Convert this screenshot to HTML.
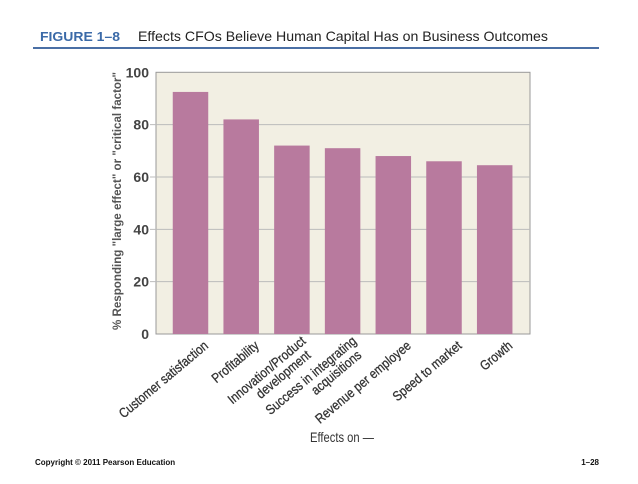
<!DOCTYPE html>
<html><head><meta charset="utf-8"><style>
body{margin:0;background:#fff;width:638px;height:479px;overflow:hidden;font-family:"Liberation Sans",sans-serif}
</style></head><body>
<svg width="638" height="479" xmlns="http://www.w3.org/2000/svg">
<text x="40" y="41" font-size="13" font-weight="bold" fill="#3b6aa8" textLength="80" lengthAdjust="spacingAndGlyphs">FIGURE 1–8</text>
<text x="138" y="41" font-size="14" fill="#222" textLength="410" lengthAdjust="spacingAndGlyphs">Effects CFOs Believe Human Capital Has on Business Outcomes</text>
<line x1="33" y1="48" x2="599" y2="48" stroke="#4a6fa5" stroke-width="2"/>
<rect x="156" y="72.3" width="374" height="261.7" fill="#f2efe3" stroke="#999" stroke-width="1"/>
<g id="grid"></g><g id="bars"></g><g id="yticks"></g><g id="xlabels"></g>
<text transform="translate(121,201) rotate(-90)" text-anchor="middle" font-size="12" font-weight="bold" fill="#555" textLength="258" lengthAdjust="spacingAndGlyphs">% Responding "large effect" or "critical factor"</text>
<text x="342" y="442" text-anchor="middle" font-size="14" fill="#333" textLength="64" lengthAdjust="spacingAndGlyphs">Effects on —</text>
<text x="35" y="465" font-size="8" font-weight="bold" fill="#111">Copyright © 2011 Pearson Education</text>
<text x="599" y="465" text-anchor="end" font-size="8" font-weight="bold" fill="#111">1–28</text>
</svg>
<script>
const categories=[["Customer satisfaction"],["Profitability"],["Innovation/Product","development"],["Success in integrating","acquisitions"],["Revenue per employee"],["Speed to market"],["Growth"]];
const values=[92.5,82,72,71,68,66,64.5];
const yTicks=[0,20,40,60,80,100];
const NS="http://www.w3.org/2000/svg";
const y0=334,y1=72.3;
function y(v){return y0-(y0-y1)*v/100;}
function xc(i){return 190.5+50.7*i;}
const bw=35.5;
function mk(t,a,p){const e=document.createElementNS(NS,t);for(const k in a)e.setAttribute(k,a[k]);document.getElementById(p).appendChild(e);return e;}
yTicks.forEach(v=>{
 if(v>0&&v<100){const l=mk('line',{x1:150,x2:530,y1:y(v),y2:y(v),stroke:'#bbb','stroke-width':1},'grid');
 
 }
 const t=mk('text',{x:149,y:y(v)+5,'text-anchor':'end','font-size':14,'font-weight':'bold',fill:'#444'},'yticks');
 t.textContent=v;
 
 
});
values.forEach((v,i)=>{
 const r=mk('rect',{x:xc(i)-bw/2,y:y(v),width:bw,height:y0-y(v),fill:'#b87a9e'},'bars');
 
 
 const g=mk('text',{transform:`translate(${xc(i)+16},344) rotate(-40) scale(0.86,1)`,'text-anchor':'end','font-size':13.5,fill:'#333',stroke:'#333','stroke-width':0.3},'xlabels');
 
 
 const lines=categories[i];
 lines.forEach((s,j)=>{const ts=document.createElementNS(NS,'tspan');ts.setAttribute('x',lines.length>1&&j==1?-6:0);ts.setAttribute('y',lines.length>1?(j==0?-2:12):4);ts.textContent=s;g.appendChild(ts);});
});
</script>
</body></html>
